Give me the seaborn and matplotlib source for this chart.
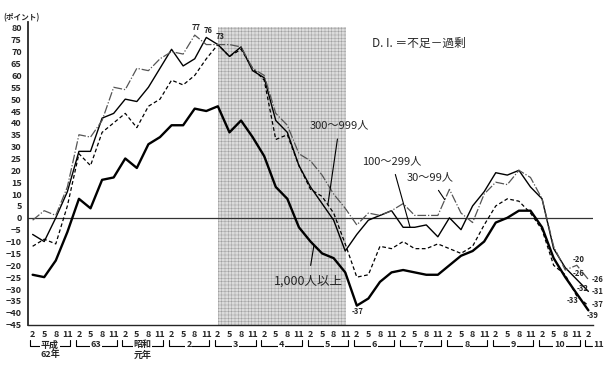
import numpy as np
import pandas as pd
import seaborn as sns
import matplotlib.pyplot as plt
from matplotlib.ticker import MultipleLocator

# quarterly index: Feb/May/Aug/Nov from 昭和62 to 平成11 Feb
quarters = list(range(49))
month_labels = ["2", "5", "8", "11"] * 12 + ["2"]
year_labels = ["平成", "63", "昭和", "2", "3", "4", "5", "6", "7", "8", "9", "10"]
year_sub = {0: "62年", 2: "元年"}

di_1000 = [-24, -25, -18, -6, 8, 4, 16, 17, 25, 21, 31, 34, 39, 39, 46, 45, 47, 36, 41, 34,
           26, 13, 8, -4, -10, -15, -17, -23, -37, -34, -27, -23, -22, -23, -24, -24, -20, -16,
           -14, -10, -2, 0, 3, 3, -4, -17, -25, -32, -39]
di_300 = [-12, -9, -11, 5, 27, 22, 36, 40, 44, 38, 47, 50, 58, 56, 60, 67, 73, 68, 71, 63,
          58, 33, 35, 22, 12, 9, 2, -11, -25, -24, -12, -13, -10, -13, -13, -11, -13, -15,
          -12, -3, 5, 8, 7, 2, -5, -20, -24, -33, -37]
di_100 = [-7, -10, 0, 11, 28, 28, 42, 44, 50, 49, 55, 63, 71, 64, 67, 76, 73, 68, 72, 62,
          59, 41, 36, 22, 13, 6, -1, -14, -7, -1, 1, 3, -4, -4, -3, -8, 0, -5, 5, 11, 19, 18,
          20, 13, 8, -13, -21, -26, -31]
di_30 = [-1, 3, 1, 13, 35, 34, 41, 55, 54, 63, 62, 67, 70, 69, 77, 73, 73, 73, 72, 63,
         60, 44, 39, 27, 24, 18, 10, 4, -3, 2, 1, 3, 6, 1, 1, 1, 12, 2, -2, 10, 15, 14, 20,
         17, 8, -12, -22, -20, -26]

shade_start, shade_end = 16, 27.1

df = pd.DataFrame({"q": quarters, "1,000人以上": di_1000, "300～999人": di_300,
                   "100～299人": di_100, "30～99人": di_30})

sns.set_style("white")
plt.rcParams["font.family"] = ["Noto Sans CJK JP", "DejaVu Sans"]
plt.rcParams["hatch.linewidth"] = 0.35

fig = plt.figure(figsize=(6.14, 3.70), dpi=100)
ax = fig.add_axes([0.0456, 0.1227, 0.9202, 0.8178])

ax.fill_between([shade_start, shade_end], -45, 80.5, facecolor="#dcdcdc",
                edgecolor="#a0a0a0", hatch="+++++", linewidth=0, zorder=0)
ax.axhline(0, color="#333333", lw=0.9, zorder=1)

styles = {
    "1,000人以上": dict(color="black", lw=1.7, linestyle="-"),
    "300～999人": dict(color="black", lw=0.9, linestyle=(0, (3, 2))),
    "100～299人": dict(color="black", lw=1.0, linestyle="-"),
    "30～99人": dict(color="#555555", lw=0.9, linestyle=(0, (7, 1.5, 1, 1.5))),
}
for name, st in styles.items():
    sns.lineplot(data=df, x="q", y=name, ax=ax, zorder=3, **st)

ax.set_xlim(-0.4, 48.4)
ax.set_ylim(-45, 82.5)
sns.despine(ax=ax)
ax.spines["left"].set_linewidth(1.3)
ax.spines["bottom"].set_linewidth(1.0)
ax.set_xlabel("")
ax.set_ylabel("")

ax.set_yticks(range(-45, 81, 5))
ax.yaxis.set_minor_locator(MultipleLocator(1))
ax.tick_params(axis="y", which="major", length=3, width=0.8, labelsize=6.5, pad=1.5)
ax.tick_params(axis="y", which="minor", length=1.5, width=0.6)
for t in ax.get_yticklabels():
    t.set_fontweight("bold")

ax.set_xticks(quarters)
ax.set_xticklabels(month_labels)
ax.tick_params(axis="x", direction="in", length=3, width=0.8, labelsize=6.5, pad=4)
for t in ax.get_xticklabels():
    t.set_fontweight("bold")

# year brackets under the month ticks
tr = ax.get_xaxis_transform()
y_top, y_bot, y_sub = -0.051, -0.071, -0.100
for k, lab in enumerate(year_labels):
    x0, x1 = 4 * k - 0.25, 4 * k + 3.25
    ax.plot([x0, x0, x1, x1], [y_top, y_bot, y_bot, y_top], color="black", lw=0.8,
            transform=tr, clip_on=False)
    ax.text((x0 + x1) / 2, y_bot + 0.004, lab, transform=tr, ha="center", va="center",
            fontsize=6.5, fontweight="bold",
            bbox=dict(facecolor="white", edgecolor="none", pad=0.6))
    if k in year_sub:
        ax.text((x0 + x1) / 2, y_sub, year_sub[k], transform=tr, ha="center",
                va="center", fontsize=6.5, fontweight="bold")
x0 = 48 - 0.25
ax.plot([x0, x0, x0 + 0.6], [y_top, y_bot, y_bot], color="black", lw=0.8,
        transform=tr, clip_on=False)
ax.text(x0 + 0.7, y_bot + 0.004, "11", transform=tr, ha="left", va="center",
        fontsize=6.5, fontweight="bold")

# text
fig.text(0.006, 0.952, "(ポイント)", fontsize=5.5, fontweight="bold", va="center")
fig.text(0.606, 0.883, "D. I. ＝不足－過剰", fontsize=8.5, va="center")


def note(i, series, text, dx, dy, size=5.5):
    ax.annotate(text, (i, series[i]), xytext=(dx * 0.72, dy * 0.72),
                textcoords="offset points", ha="center", va="center",
                fontsize=size, fontweight="bold")


note(14, di_30, "77", 1, 8)
note(15, di_100, "76", 2, 7)
note(16, di_300, "73", 2, 8)
note(28, di_1000, "-37", 1, -6)
note(47, di_30, "-20", 2, 6)
note(47, di_100, "-26", 2, 6)
note(47, di_1000, "-32", 6, 5)
note(47, di_300, "-33", -4, -4)
note(48, di_30, "-26", 9, 0)
note(48, di_100, "-31", 9, 0)
note(48, di_300, "-37", 9, 1)
note(48, di_1000, "-39", 4, -5)

# series names with pointer lines
def label(text, xy_from, i, series, size=8):
    j = int(i)
    val = series[j] + (series[min(j + 1, 48)] - series[j]) * (i - j)
    ax.annotate(text, xy=(i, val), xytext=xy_from, textcoords="data",
                ha="center", va="center", fontsize=size,
                arrowprops=dict(arrowstyle="-", color="black", lw=0.8,
                                shrinkA=4, shrinkB=0))


label("300～999人", (26.5, 39), 25.5, di_300)
label("100～299人", (31.0, 24), 32.6, di_100)
label("30～99人", (34.3, 17), 35.6, di_30)
label("1,000人以上", (23.8, -26.5), 24.3, di_1000, size=9)

plt.savefig("out.png", dpi=100, facecolor="white")
